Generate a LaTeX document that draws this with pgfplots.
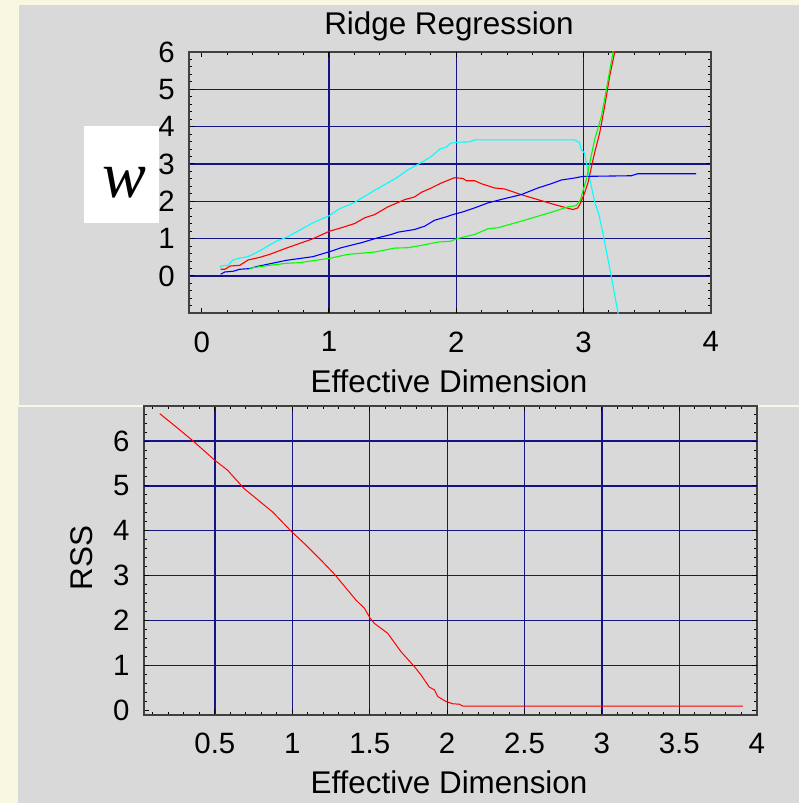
\documentclass[border=0pt]{standalone}
\usepackage{pgfplots}
\pgfplotsset{compat=1.18}
\usepackage{fontspec}
\setmainfont{Liberation Sans}
\newfontfamily\timesf{Liberation Serif}

\definecolor{bgyel}{HTML}{F8F8E2}
\definecolor{panel}{HTML}{D9D9D9}
\definecolor{gridnavy}{HTML}{141482}
\definecolor{framegray}{HTML}{404040}
\definecolor{cyanline}{HTML}{00FFFF}
\definecolor{greenline}{HTML}{00FF00}
\definecolor{blueline}{HTML}{0000FF}
\definecolor{redline}{HTML}{FF0000}

\pgfplotsset{
  slide/.style={
    scale only axis,
    anchor=south west,
    axis line style={framegray, line width=1.6bp},
    tick style={black, line width=1bp},
    major tick length=5bp,
    minor tick length=3bp,
    grid style={gridnavy, line width=1.2bp},
    tick label style={font=\fontsize{29.5}{31}\selectfont, inner sep=0pt},
    /pgf/number format/assume math mode=true,
    xticklabel style={yshift=-18bp},
    yticklabel style={xshift=-14bp},
  },
}

\begin{document}
\begin{tikzpicture}
\fill[bgyel] (0bp,0bp) rectangle (799bp,803bp);
\fill[panel] (19bp,398bp) rectangle (799bp,798bp);
\fill[panel] (18bp,0bp) rectangle (799bp,396bp);

% upper panel: ridge coefficients
\begin{axis}[slide,
  at={(189bp,489.7bp)}, width=521.7bp, height=261.3bp,
  xmin=-0.1, xmax=4, ymin=-1, ymax=6,
  xtick={0,...,4}, minor x tick num=4,
  ytick={-1,...,6}, yticklabels={,0,1,2,3,4,5,6}, minor y tick num=4,
  ymajorgrids=true,
  extra x ticks={1,2,3}, extra x tick labels={},
  extra x tick style={grid=major},
]
\addplot[cyanline, line width=1.1bp] coordinates {
(0.149,0.224) (0.149,0.267) (0.207,0.285) (0.246,0.427) (0.299,0.480)
(0.364,0.517) (0.430,0.624) (0.587,0.933) (0.665,1.032) (0.770,1.227)
(0.874,1.424) (1.005,1.619) (1.071,1.779) (1.202,1.973) (1.359,2.293)
(1.529,2.624) (1.621,2.845) (1.726,3.040) (1.804,3.200) (1.870,3.397)
(1.922,3.451) (1.956,3.557) (2.013,3.584) (2.105,3.592) (2.145,3.645)
(2.930,3.645) (2.969,3.573) (2.983,3.379) (3.009,3.291) (3.022,3.024)
(3.048,2.624) (3.087,2.000) (3.121,1.645) (3.152,1.157) (3.218,0.000)
(3.275,-1.050)
};
\addplot[redline, line width=1.1bp] coordinates {
(0.149,0.179) (0.181,0.179) (0.225,0.267) (0.299,0.285) (0.364,0.427)
(0.456,0.499) (0.534,0.579) (0.665,0.747) (0.770,0.872) (0.874,0.997)
(1.005,1.200) (1.097,1.291) (1.202,1.405) (1.280,1.557) (1.359,1.645)
(1.463,1.851) (1.595,2.045) (1.673,2.117) (1.726,2.240) (1.804,2.357)
(1.883,2.491) (1.948,2.579) (1.987,2.632) (2.053,2.613) (2.079,2.552)
(2.145,2.552) (2.197,2.472) (2.302,2.357) (2.380,2.331) (2.511,2.179)
(2.642,2.045) (2.773,1.912) (2.917,1.779) (2.956,1.824) (2.977,1.957)
(3.009,2.224) (3.035,2.491) (3.087,3.291) (3.127,3.824) (3.166,4.533)
(3.205,5.333) (3.244,5.973) (3.250,6.150)
};
\addplot[blueline, line width=1.1bp] coordinates {
(0.149,0.045) (0.181,0.107) (0.246,0.125) (0.299,0.179) (0.377,0.197)
(0.430,0.251) (0.665,0.419) (0.874,0.517) (1.005,0.651) (1.097,0.757)
(1.255,0.891) (1.385,1.024) (1.490,1.112) (1.542,1.173) (1.673,1.245)
(1.752,1.333) (1.830,1.493) (1.922,1.584) (1.974,1.645) (2.053,1.717)
(2.145,1.824) (2.249,1.957) (2.380,2.072) (2.511,2.179) (2.642,2.357)
(2.747,2.472) (2.826,2.571) (2.930,2.624) (2.995,2.667) (3.376,2.685)
(3.427,2.739) (3.886,2.739)
};
\addplot[greenline, line width=1.1bp] coordinates {
(0.377,0.197) (0.403,0.224) (0.534,0.285) (0.665,0.339) (0.770,0.357)
(1.005,0.472) (1.149,0.579) (1.359,0.640) (1.516,0.747) (1.621,0.757)
(1.726,0.819) (1.856,0.907) (1.962,0.933) (1.987,0.979) (2.066,1.051)
(2.145,1.112) (2.249,1.264) (2.328,1.291) (2.511,1.467) (2.642,1.600)
(2.773,1.733) (2.877,1.851) (2.943,1.885) (2.977,2.045) (2.995,2.267)
(3.022,2.579) (3.087,3.645) (3.140,4.267) (3.179,4.979) (3.231,5.973)
(3.236,6.150)
};
\end{axis}

% lower panel: residual sum of squares
\begin{axis}[slide,
  at={(143.7bp,88bp)}, width=613bp, height=309bp,
  xmin=0.04, xmax=4, ymin=-0.1, ymax=6.78,
  xtick={0,0.5,...,4}, minor x tick num=4,
  ytick={0,...,7}, minor y tick num=4,
  xmajorgrids=true,
  extra y ticks={1,...,6}, extra y tick labels={},
  extra y tick style={grid=major},
]
\addplot[redline, line width=1bp] coordinates {
(0.144,6.61) (0.172,6.53) (0.237,6.35) (0.356,6.01) (0.500,5.57)
(0.582,5.35) (0.689,4.94) (0.873,4.42) (0.996,3.98) (1.077,3.72)
(1.185,3.35) (1.271,3.04) (1.411,2.46) (1.465,2.28) (1.504,2.05)
(1.530,1.94) (1.616,1.72) (1.702,1.31) (1.788,0.98) (1.832,0.79)
(1.885,0.52) (1.918,0.46) (1.940,0.31) (1.993,0.20) (2.037,0.15)
(2.079,0.14) (2.101,0.10) (3.911,0.10)
};
\end{axis}

\node[anchor=base, font=\fontsize{31.5}{33}\selectfont] at (449bp,768bp) {Ridge Regression};
\node[anchor=base, font=\fontsize{31.5}{33}\selectfont] at (449bp,410.3bp) {Effective Dimension};
\node[anchor=base, font=\fontsize{31.5}{33}\selectfont] at (449bp,9.7bp) {Effective Dimension};
\node[rotate=90, anchor=base, font=\fontsize{31.5}{33}\selectfont] at (92bp,245bp) {RSS};
\fill[white] (84bp,580.3bp) rectangle (159bp,677bp);
\node[anchor=base, font=\timesf\itshape\fontsize{66}{68}\selectfont] at (124bp,605bp) {w};
\end{tikzpicture}
\end{document}
